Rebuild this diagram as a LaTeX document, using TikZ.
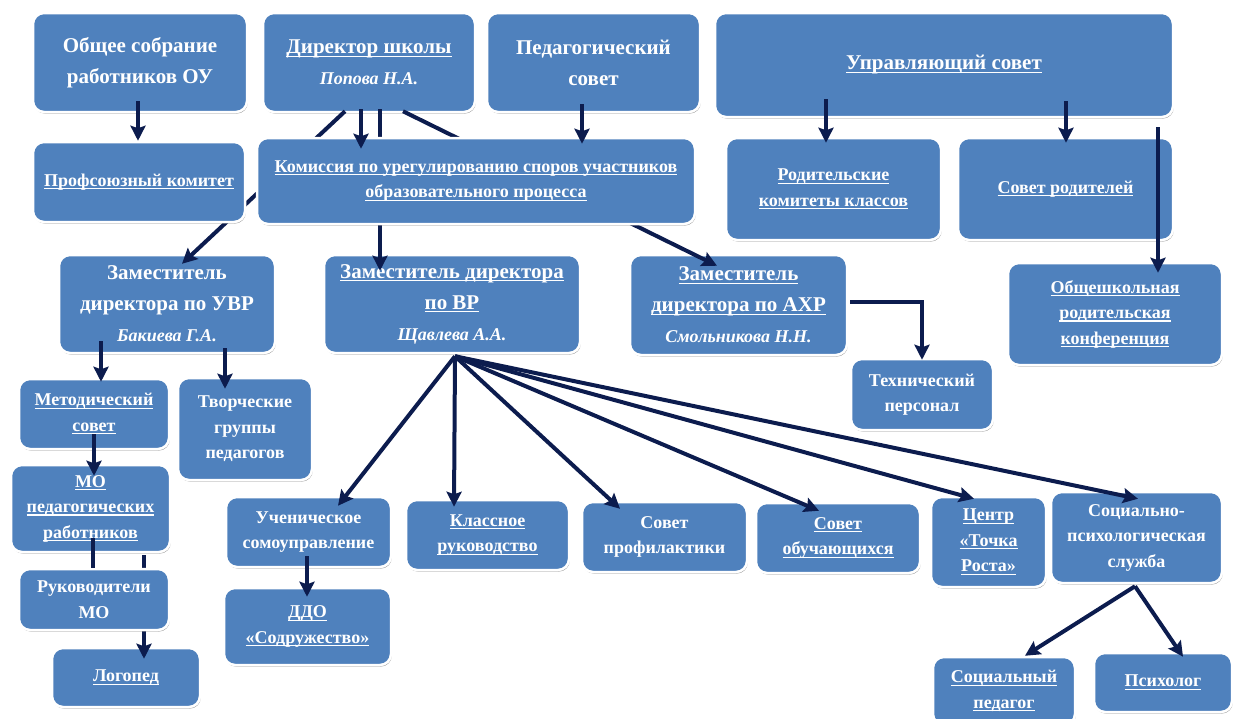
\documentclass[tikz,border=0pt]{standalone}
\usepackage{fontspec}
\setmainfont{Liberation Serif}
\usetikzlibrary{arrows.meta,shadows,calc}
\definecolor{boxblue}{RGB}{79,129,189}
\definecolor{navy}{RGB}{12,28,78}
\newcommand\myul[1]{\setbox0\hbox{#1}\leavevmode\rlap{\copy0}\rule[-3pt]{\wd0}{1.1pt}}
\newcommand\fioit{\fontsize{18pt}{21pt}\selectfont\itshape}
\tikzset{
  box/.style={rectangle, rounded corners=11pt, fill=boxblue, draw=white, line width=2.5pt,
    text=white, align=center, inner sep=1pt,
    drop shadow={shadow xshift=0.8pt, shadow yshift=-1.6pt, opacity=0.35, fill=black}},
  big/.style={font=\fontsize{21pt}{31pt}\selectfont\bfseries},
  mid/.style={font=\fontsize{18pt}{25.5pt}\selectfont\bfseries},
  sz/.style n args={2}{minimum width=#1pt, minimum height=#2pt},
  link/.style={draw=navy, line width=4pt},
  arr/.style={link, -{Stealth[length=15pt,width=15pt,inset=2.5pt]}},
}
\begin{document}
\begin{tikzpicture}[x=1pt,y=-1pt]
\useasboundingbox (0,0) rectangle (1235,718);

% --- nodes (except those lying over connectors)
\node[box,big,sz={214}{99}] (obs) at (140,62.5) {Общее собрание\\работников ОУ};
\node[box,big,sz={212}{99}] (dir) at (369,62.5) {\myul{Директор школы}\\{\fioit Попова Н.А.}};
\node[box,big,sz={213}{99}] (ped) at (593.5,62.5) {Педагогический\\совет};
\node[box,big,sz={458}{104}] (upr) at (944,65) {\myul{Управляющий совет}};
\node[box,mid,sz={215}{102}] (rod) at (833.5,189) {\myul{Родительские}\\\myul{комитеты классов}};
\node[box,mid,sz={215}{102}] (sovrod) at (1065.5,189) {\myul{Совет родителей}};
\node[box,big,sz={216}{98}] (zuvr) at (167,304) {Заместитель\\директора по УВР\\{\fioit Бакиева Г.А.}};
\node[box,big,sz={256}{98}] (zvr) at (452,304) {\myul{Заместитель директора}\\\myul{по ВР}\\{\fioit Щавлева А.А.}};
\node[box,big,sz={217}{100}] (zahr) at (738.5,305) {\myul{Заместитель}\\\myul{директора по АХР}\\{\fioit Смольникова Н.Н.}};
\node[box,mid,sz={214}{102}] (obsh) at (1115,314) {\myul{Общешкольная}\\\myul{родительская}\\\myul{конференция}};
\node[box,mid,sz={142}{71}] (tech) at (922,394.5) {Технический\\персонал};
\node[box,mid,sz={150}{70}] (met) at (94,414) {\myul{Методический}\\\myul{совет}};
\node[box,mid,sz={134}{102}] (tvor) at (245,429) {Творческие\\группы\\педагогов};
\node[box,mid,sz={159}{87}] (mo) at (90.5,508.5) {\myul{МО}\\\myul{педагогических}\\\myul{работников}};
\node[box,mid,sz={148}{59}] (log) at (126,677.5) {\myul{Логопед}};
\node[box,mid,sz={165}{70}] (uch) at (308.5,532) {Ученическое\\сомоуправление};
\node[box,mid,sz={167}{77}] (ddo) at (307.5,626.5) {\myul{ДДО}\\\myul{«Содружество»}};
\node[box,mid,sz={163}{70}] (kl) at (487.5,535) {\myul{Классное}\\\myul{руководство}};
\node[box,mid,sz={165}{70}] (sprof) at (664.5,537) {Совет\\профилактики};
\node[box,mid,sz={164}{70}] (sobuch) at (838,538) {\myul{Совет}\\\myul{обучающихся}};
\node[box,mid,sz={115}{90}] (centr) at (988.5,542) {\myul{Центр}\\\myul{«Точка}\\\myul{Роста»}};
\node[box,mid,sz={171}{91}] (sps) at (1136.5,537.5) {Социально-\\психологическая\\служба};
\node[box,mid,sz={142}{68}] (spedag) at (1004,691) {\myul{Социальный}\\\myul{педагог}};
\node[box,mid,sz={138}{59}] (psych) at (1163,682.5) {\myul{Психолог}};

% --- connectors passing behind boxes
\draw[arr] ($(dir.south)+(-24,-2)$) -- ($(zuvr.north)+(15,10)$);
\draw[arr] ($(dir.south)+(11,-4)$) -- ($(zvr.north)+(-72,17)$);
\draw[arr] ($(dir.south)+(34,-2)$) -- ($(zahr.north)+(-21.5,12)$);
\draw[arr] ($(mo.south)+(53.5,2)$) -- ($(log.north)+(18,12)$);

% --- boxes lying over those connectors
\node[box,mid,sz={212}{80}] (prof) at (139,182) {\myul{Профсоюзный комитет}};
\node[box,mid,sz={438}{86}] (kom) at (476,181) {\myul{Комиссия по урегулированию споров участников}\\\myul{образовательного процесса}};
\node[box,mid,sz={150}{61}] (ruk) at (94,599.5) {Руководители\\МО};

% --- connectors on top
\draw[arr] ($(obs.south)+(-2,-12)$) -- ($(prof.north)+(-1,0)$);
\draw[arr] ($(dir.south)+(-8,-4)$) -- ($(kom.north)+(-115,12)$);
\draw[arr] ($(ped.south)+(-11.5,-9)$) -- ($(kom.north)+(106,7)$);
\draw[arr] ($(upr.south)+(-118,-19)$) -- ($(rod.north)+(-7.5,6)$);
\draw[arr] ($(upr.south)+(122,-17)$) -- ($(sovrod.north)+(0.5,6)$);
\draw[arr] ($(upr.south)+(214,9)$) -- ($(obsh.north)+(43,11)$);
\draw[arr] ($(zuvr.south)+(-66,-13)$) -- ($(met.north)+(7,4)$);
\draw[arr] ($(zuvr.south)+(58,-6)$) -- ($(tvor.north)+(-20,12)$);
\draw[arr] ($(met.south)+(0,-16)$) -- ($(mo.north)+(3.5,12)$);
\draw[link] ($(mo.south)+(2.5,-15)$) -- ($(ruk.north)+(-1,0)$);
\draw[arr] ($(uch.south)+(-1.5,-12)$) -- ($(ddo.north)+(-0.5,10)$);
\coordinate (fan) at ($(zvr.south)+(3,2)$);
\draw[arr] (fan) -- ($(uch.north)+(29.5,10)$);
\draw[arr] (fan) -- ($(kl.north)+(-33.5,8)$);
\draw[arr] (fan) -- ($(sprof.north)+(-44.5,8)$);
\draw[arr] (fan) -- ($(sobuch.north)+(-19,9)$);
\draw[arr] (fan) -- ($(centr.north)+(-14.5,3)$);
\draw[arr] (fan) -- ($(sps.north)+(1.5,8)$);
\draw[arr] ($(zahr.east)+(2,-3)$) -| ($(tech.north)+(0,2)$);
\coordinate (spsb) at ($(sps.south)+(-1.5,2)$);
\draw[arr] (spsb) -- ($(spedag.north)+(21,0)$);
\draw[arr] (spsb) -- ($(psych.north)+(20,5)$);
\end{tikzpicture}
\end{document}
